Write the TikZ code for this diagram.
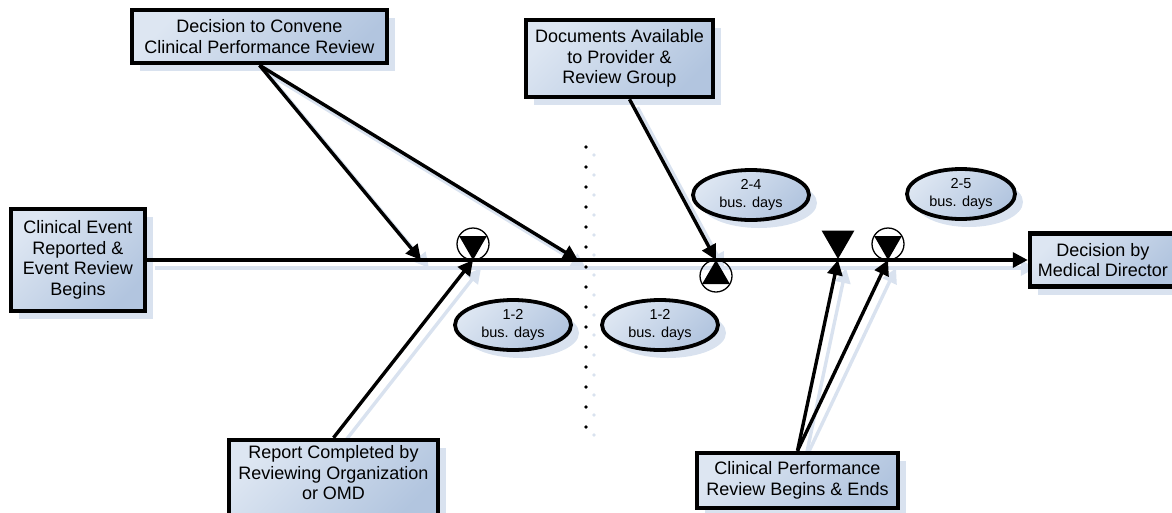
\documentclass[tikz,border=0pt]{standalone}
\usepackage{fontspec}
\setmainfont{Liberation Sans}
\usetikzlibrary{arrows.meta,shapes.geometric,shadows,backgrounds,calc}
\definecolor{bluelight}{HTML}{DDE6F2}
\definecolor{bluedark}{HTML}{B2C5DF}
\definecolor{shadowblue}{HTML}{D9E2EF}
\newcommand\boxfont{\fontsize{18}{20.5}\selectfont}
\newcommand\ellfont{\fontsize{14.5}{17.5}\selectfont}
\begin{document}
\begin{tikzpicture}[x=1pt,y=-1pt,
  bshadow/.style={drop shadow={shadow xshift=8pt, shadow yshift=-8pt, fill=shadowblue, opacity=1}},
  box/.style={rectangle, draw=black, line width=4.5pt, top color=bluelight, bottom color=bluedark, shading angle=45, inner sep=0pt, align=center, font=\boxfont, bshadow},
  ell/.style={ellipse, draw=black, line width=3.8pt, top color=bluelight, bottom color=bluedark, shading angle=45, inner sep=0pt, align=center, font=\ellfont, minimum height=50pt, bshadow},
  conn/.style={line width=3.4pt, -{Triangle[length=15pt,width=15pt]}},
  shconn/.style={conn, draw=shadowblue},
  marker/.style={circle, draw=black, line width=1.3pt, minimum size=32pt, inner sep=0pt},
  tri/.style={regular polygon, regular polygon sides=3, fill=black, inner sep=0pt, minimum size=32pt},
  dotline/.style={line width=3.6pt, line cap=round, dash pattern=on 0pt off 20pt},
]
\useasboundingbox (0,0) rectangle (1172,512);
\clip (0,0) rectangle (1172,512);

% boxes
\node[box, minimum width=134pt, minimum height=102pt] (ev) at (78,260) {Clinical Event\\Reported \&\\Event Review\\Begins};
\node[box, minimum width=255pt, minimum height=53pt] (conv) at (259.5,36.5) {Decision to Convene\\Clinical Performance Review};
\node[box, minimum width=187pt, minimum height=77pt] (docs) at (619.5,58.5) {Documents Available\\to Provider \&\\Review Group};
\node[box, minimum width=146pt, minimum height=53pt] (dec) at (1103,260) {Decision by\\Medical Director};
\node[box, minimum width=209pt, minimum height=80pt] (rep) at (333.5,480) {};
\node[font=\boxfont, align=center, inner sep=0pt] (reptext) at (333.5,473) {Report Completed by\\Reviewing Organization\\or OMD};
\node[box, minimum width=201pt, minimum height=55pt] (cpr) at (797.5,480.5) {Clinical Performance\\Review Begins \& Ends};

% ellipses
\node[ell, minimum width=116pt] (d1) at (513,325) {1-2\\bus. days};
\node[ell, minimum width=116pt] (d2) at (660,325) {1-2\\bus. days};
\node[ell, minimum width=116pt] (d3) at (751,195) {2-4\\bus. days};
\node[ell, minimum width=108pt] (d4) at (961,194) {2-5\\bus. days};

% markers
\node[marker] (m1) at (473,244) {};
\node[tri, shape border rotate=180] (t1) at (m1) {};
\node[marker] (m2) at (716,276) {};
\node[tri] (t2) at (m2) {};
\node[marker] (m3) at (888,244) {};
\node[tri, shape border rotate=180] (t3) at (m3) {};
\node[tri, minimum size=38pt, shape border rotate=180] (m4) at (838,240) {};

% points on the main line
\coordinate (a1) at (421,260);
\coordinate (a2) at (578,260);
\coordinate (a3) at (473,260);
\coordinate (a4) at (716,260);
\coordinate (a5) at (838,260);
\coordinate (a6) at (888,260);
\coordinate (dstart) at ($(docs.south)+(10,0)$);
\coordinate (dtop) at (586,147);
\coordinate (dbot) at (586,432);

% shadows of connectors
\begin{pgfonlayer}{background}
\begin{scope}[transform canvas={shift={(8pt,-8pt)}}]
\draw[shconn] (ev.east) -- (dec.west);
\draw[shconn] (conv.south) -- (a1);
\draw[shconn] (conv.south) -- (a2);
\draw[shconn] (rep.north) -- (a3);
\draw[shconn] (dstart) -- (a4);
\draw[shconn] (cpr.north) -- (a5);
\draw[shconn] (cpr.north) -- (a6);
\draw[dotline, draw=shadowblue] (dtop) -- (dbot);
\end{scope}
\end{pgfonlayer}

% connectors
\draw[conn] (ev.east) -- (dec.west);
\draw[conn] (conv.south) -- (a1);
\draw[conn] (conv.south) -- (a2);
\draw[conn] (rep.north) -- (a3);
\draw[conn] (dstart) -- (a4);
\draw[conn] (cpr.north) -- (a5);
\draw[conn] (cpr.north) -- (a6);
\draw[dotline] (dtop) -- (dbot);
\end{tikzpicture}
\end{document}
